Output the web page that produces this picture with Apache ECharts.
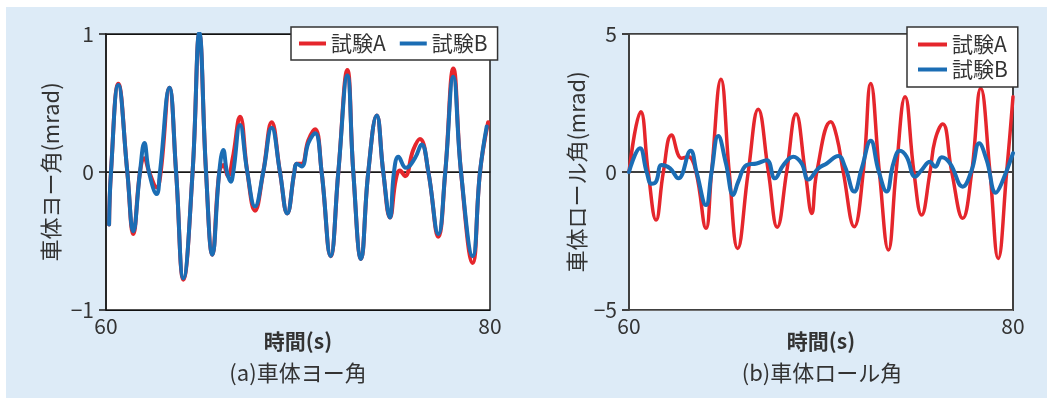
<!DOCTYPE html>
<html><head><meta charset="utf-8">
<script src="https://cdn.jsdelivr.net/npm/echarts@6/dist/echarts.min.js"></script>
<style>html,body{margin:0;padding:0;background:#fff;}#c{width:1047px;height:398px;}</style>
</head><body><div id="c"></div>
<script>
// ---- Data ----
const seriesNames = ['試験A', '試験B'];
const xTicks = [60, 80];

// (a) 車体ヨー角 [mrad]
const yawTimeA = [60.16,60.26,60.64,61.11,61.42,61.77,62.00,62.25,62.64,62.85,63.30,63.65,64.03,64.51,64.86,65.21,65.54,65.90,66.11,66.35,66.60,66.98,67.36,67.76,68.19,68.63,69.06,69.44,69.81,69.93,70.19,70.54,70.89,71.23,71.70,72.10,72.57,72.88,73.28,73.66,74.10,74.44,74.79,75.10,75.31,75.57,76.00,76.35,76.79,77.31,77.67,78.09,78.49,79.10,79.48,79.90];
const yawA     = [-0.38,0.0,0.64,0.0,-0.45,0.0,0.10,0.0,-0.11,0.0,0.61,0.0,-0.78,0.0,1.00,0.0,-0.60,0.0,0.05,-0.03,0.10,0.40,0.0,-0.28,0.0,0.36,0.0,-0.30,0.0,0.06,0.06,0.23,0.31,0.0,-0.61,0.0,0.74,0.0,-0.63,0.0,0.41,0.0,-0.33,-0.05,0.01,-0.03,0.16,0.24,0.0,-0.47,0.0,0.75,0.0,-0.66,0.0,0.36];
const yawTimeB = [60.16,60.26,60.64,61.11,61.42,61.77,62.00,62.24,62.64,62.81,63.30,63.65,64.03,64.51,64.86,65.21,65.54,65.90,66.11,66.30,66.50,66.63,66.98,67.36,67.76,68.19,68.63,69.06,69.44,69.81,69.93,70.19,70.54,70.89,71.23,71.70,72.10,72.57,72.88,73.28,73.66,74.10,74.44,74.79,75.00,75.23,75.62,76.09,76.44,76.79,77.31,77.67,78.09,78.49,79.10,79.48,79.83];
const yawB     = [-0.38,0.0,0.63,0.0,-0.43,0.0,0.21,0.0,-0.16,0.0,0.61,0.0,-0.77,0.0,1.01,0.0,-0.60,0.0,0.16,0.0,-0.07,0.0,0.34,0.0,-0.25,0.0,0.32,0.0,-0.30,0.0,0.06,0.04,0.21,0.28,0.0,-0.61,0.0,0.70,0.0,-0.63,0.0,0.41,0.0,-0.33,0.0,0.11,0.03,0.10,0.20,0.0,-0.45,0.0,0.69,0.0,-0.61,0.0,0.33];

// (b) 車体ロール角 [mrad]
const rollTimeA = [60.00,60.61,61.00,61.41,61.79,62.22,62.74,63.09,63.49,64.01,64.30,64.79,65.22,65.66,66.21,66.73,67.26,67.72,68.21,68.70,69.18,69.52,69.78,70.51,70.82,71.16,71.73,72.20,72.59,73.04,73.51,73.91,74.38,74.84,75.24,75.68,75.94,76.34,76.81,77.38,77.85,78.32,78.80,79.23,79.67,80.00];
const rollA     = [0.0,2.18,0.0,-1.74,0.0,1.34,0.50,0.55,0.0,-2.04,0.0,3.36,0.0,-2.77,0.0,2.27,0.0,-2.00,0.0,2.10,0.0,-1.50,0.0,1.82,1.28,0.0,-1.98,0.0,3.21,0.0,-2.83,0.0,2.73,0.0,-1.56,0.0,1.16,1.74,0.0,-1.68,0.0,3.03,0.0,-3.13,0.0,2.73];
const rollTimeB = [60.00,60.57,60.92,61.18,61.41,61.70,62.14,62.57,63.21,63.52,64.01,64.30,64.65,65.05,65.43,65.69,66.13,66.65,67.17,67.60,68.04,68.56,68.99,69.34,69.86,70.30,70.90,71.25,71.73,72.12,72.59,72.99,73.42,73.77,74.11,74.46,74.90,75.24,75.68,75.94,76.29,76.72,77.38,77.85,78.24,78.63,79.11,79.41,80.00];
const rollB     = [0.0,0.86,0.0,-0.43,-0.35,0.25,0.13,-0.23,0.77,0.0,-1.20,0.0,1.30,0.31,-0.83,-0.35,0.25,0.31,0.43,-0.23,0.25,0.55,0.31,-0.27,0.13,0.31,0.58,0.19,-0.71,0.13,1.13,0.07,-0.71,0.31,0.77,0.55,-0.17,0.07,0.37,0.19,0.53,0.31,-0.53,0.07,1.04,0.43,-0.75,-0.41,0.68];

// ---- Chart ----
const zip = (t, v) => t.map((x, i) => [x, v[i]]);
const RED = '#e5262c', BLUE = '#1b6db4';
const FONT = '"Noto Sans CJK JP", "Noto Sans", sans-serif';
const TXT = '#333';
const minusFmt = v => (v < 0 ? '\u2212' + Math.abs(v) : String(v));

function xAxis(gridIndex, color, w) {
  return {
    type: 'value', gridIndex, min: 60, max: 80, interval: 20,
    name: '時間(s)', nameLocation: 'middle', nameGap: 21, nameMoveOverlap: false,
    nameTextStyle: { fontFamily: FONT, fontSize: 21, fontWeight: 'bold', color: TXT, verticalAlign: 'top' },
    axisLine: { show: true, lineStyle: { color, width: w } },
    axisTick: { show: false },
    splitLine: { show: false },
    axisLabel: { fontFamily: FONT, fontSize: 21, color: TXT, margin: 6,
      customValues: xTicks, formatter: v => String(v) }
  };
}
function yAxis(gridIndex, lim, name, color, w, zeroColor, gap) {
  return {
    type: 'value', gridIndex, min: -lim, max: lim, interval: lim,
    name, nameLocation: 'middle', nameGap: gap,
    nameTextStyle: { fontFamily: FONT, fontSize: 22, color: TXT },
    axisLine: { show: true, lineStyle: { color, width: w } },
    axisTick: { show: true, inside: false, length: 7, lineStyle: { color, width: w } },
    splitLine: { show: true, lineStyle: { color: zeroColor, width: 1 } },
    axisLabel: { fontFamily: FONT, fontSize: 21, color: TXT, margin: 12, formatter: minusFmt }
  };
}
function line(name, data, xi, color, width) {
  return {
    type: 'line', name, data, xAxisIndex: xi, yAxisIndex: xi,
    smooth: 0.45, showSymbol: false, symbol: 'none',
    lineStyle: { color, width, cap: 'round', join: 'round' },
    itemStyle: { color }, animation: false
  };
}

const chart = echarts.init(document.getElementById('c'), null, { renderer: 'canvas' });
chart.setOption({
  backgroundColor: '#ddebf7',
  animation: false,
  graphic: [
    { type: 'rect', shape: { x: 0, y: 0, width: 1047, height: 7 }, style: { fill: '#fff' }, silent: true },
    { type: 'rect', shape: { x: 0, y: 0, width: 6, height: 398 }, style: { fill: '#fff' }, silent: true },
    { type: 'text', x: 298, y: 373, style: { text: '(a)車体ヨー角', font: '22px ' + FONT, fill: TXT, align: 'center', verticalAlign: 'middle' } },
    { type: 'text', x: 822, y: 373, style: { text: '(b)車体ロール角', font: '22px ' + FONT, fill: TXT, align: 'center', verticalAlign: 'middle' } }
  ],
  grid: [
    { left: 106, top: 34, width: 384, height: 276, show: true, backgroundColor: '#fff', borderColor: '#1a1a1a', borderWidth: 1.5 },
    { left: 629, top: 34, width: 384, height: 276, show: true, backgroundColor: '#fff', borderColor: '#404040', borderWidth: 2 }
  ],
  xAxis: [ xAxis(0, '#1a1a1a', 1.5), xAxis(1, '#404040', 2) ],
  yAxis: [
    yAxis(0, 1, '車体ヨー角(mrad)', '#1a1a1a', 1.5, '#111', 44),
    yAxis(1, 5, '車体ロール角(mrad)', '#404040', 2, '#707070', 41)
  ],
  legend: [
    { data: seriesNames, left: 291, top: 27, orient: 'horizontal', icon: 'rect',
      itemWidth: 27, itemHeight: 4, itemGap: 14, padding: [6, 10, 6, 8],
      backgroundColor: '#fff', borderColor: '#333', borderWidth: 1.5, selectedMode: false,
      textStyle: { fontFamily: FONT, fontSize: 21, color: TXT } },
    { data: seriesNames, left: 907, top: 27, orient: 'vertical', icon: 'rect',
      itemWidth: 29, itemHeight: 4, itemGap: 4, padding: [7, 10, 7, 11],
      backgroundColor: '#fff', borderColor: '#333', borderWidth: 1.5, selectedMode: false,
      textStyle: { fontFamily: FONT, fontSize: 21, color: TXT } }
  ],
  series: [
    line('試験A', zip(yawTimeA, yawA), 0, RED, 4),
    line('試験B', zip(yawTimeB, yawB), 0, BLUE, 4),
    line('試験A', zip(rollTimeA, rollA), 1, RED, 3.5),
    line('試験B', zip(rollTimeB, rollB), 1, BLUE, 4)
  ]
});
</script></body></html>
